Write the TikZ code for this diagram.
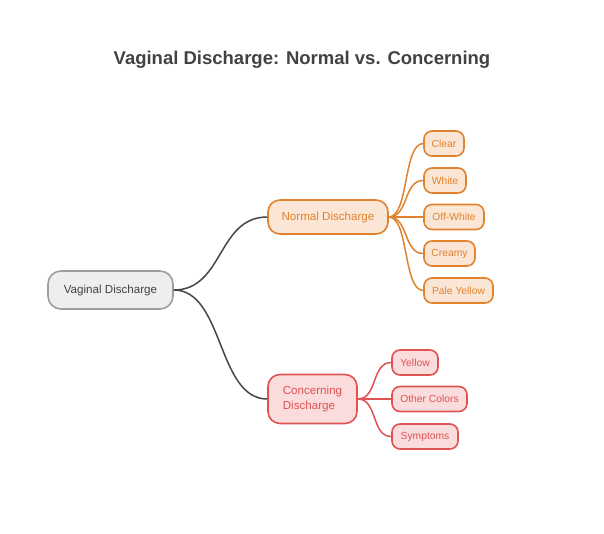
\documentclass[tikz,border=0pt]{standalone}
\usepackage{fontspec}
\setmainfont{Liberation Sans}
\definecolor{txtgray}{HTML}{424242}
\definecolor{rootfill}{HTML}{EEEEEE}
\definecolor{rootdraw}{HTML}{9E9E9E}
\definecolor{orgfill}{HTML}{FBE6D5}
\definecolor{orgdraw}{HTML}{E0822E}
\definecolor{redfill}{HTML}{FADCDC}
\definecolor{reddraw}{HTML}{E05353}
\definecolor{linkgray}{HTML}{474747}
\tikzset{
  base/.style={rounded corners=9pt, line width=1.6pt, inner sep=0pt, anchor=center},
  rootbox/.style={base, rounded corners=13pt, fill=rootfill, draw=rootdraw, text=txtgray, minimum width=125pt, minimum height=38pt, font=\fontsize{11.6}{13}\selectfont},
  normbox/.style={base, rounded corners=12pt, fill=orgfill, draw=orgdraw, text=orgdraw, minimum width=120pt, minimum height=34pt, font=\fontsize{11.6}{13}\selectfont},
  concbox/.style={base, rounded corners=12pt, fill=redfill, draw=reddraw, text=reddraw, minimum width=89pt, minimum height=49pt, align=left, font=\fontsize{11.6}{15}\selectfont},
  oleaf/.style={base, rounded corners=8pt, fill=orgfill, draw=orgdraw, text=orgdraw, minimum height=25pt, font=\fontsize{10.3}{12}\selectfont},
  rleaf/.style={base, rounded corners=8pt, fill=redfill, draw=reddraw, text=reddraw, minimum height=25pt, font=\fontsize{10.3}{12}\selectfont},
  mainlink/.style={draw=linkgray, line width=1.5pt},
  olink/.style={draw=orgdraw, line width=1.5pt},
  rlink/.style={draw=reddraw, line width=1.5pt},
}
\begin{document}
\begin{tikzpicture}[x=1pt,y=-1pt]
\useasboundingbox (0,0) rectangle (604,533);
\fill[white] (0,0) rectangle (604,533);
\node[text=txtgray, font=\bfseries\fontsize{18.5}{22}\selectfont] (title) at (302,60) {Vaginal Discharge: Normal vs. Concerning};
\node[rootbox] (root) at (110.5,290) {Vaginal Discharge};
\node[normbox] (norm) at (328,217) {Normal Discharge};
\node[concbox] (conc) at (312.5,399) {Concerning\\Discharge};
\node[oleaf, minimum width=40pt] (clear) at (444,143.5) {Clear};
\node[oleaf, minimum width=42pt] (white) at (445,180.5) {White};
\node[oleaf, minimum width=60pt] (offw) at (454,217) {Off-White};
\node[oleaf, minimum width=51pt] (creamy) at (449.5,253.5) {Creamy};
\node[oleaf, minimum width=69pt] (paley) at (458.5,290.5) {Pale Yellow};
\node[rleaf, minimum width=46pt] (yellow) at (415,362.5) {Yellow};
\node[rleaf, minimum width=75pt] (other) at (429.5,399) {Other Colors};
\node[rleaf, minimum width=66pt] (sympt) at (425,436.5) {Symptoms};
\draw[mainlink] (root.east) .. controls +(50,0) and +(-50,0) .. (norm.west);
\draw[mainlink] (root.east) .. controls +(50,0) and +(-50,0) .. (conc.west);
\foreach \t in {clear,white,offw,creamy,paley}
  \draw[olink] (norm.east) .. controls +(20,0) and +(-20,0) .. (\t.west);
\foreach \t in {yellow,other,sympt}
  \draw[rlink] (conc.east) .. controls +(20,0) and +(-20,0) .. (\t.west);
\end{tikzpicture}
\end{document}
